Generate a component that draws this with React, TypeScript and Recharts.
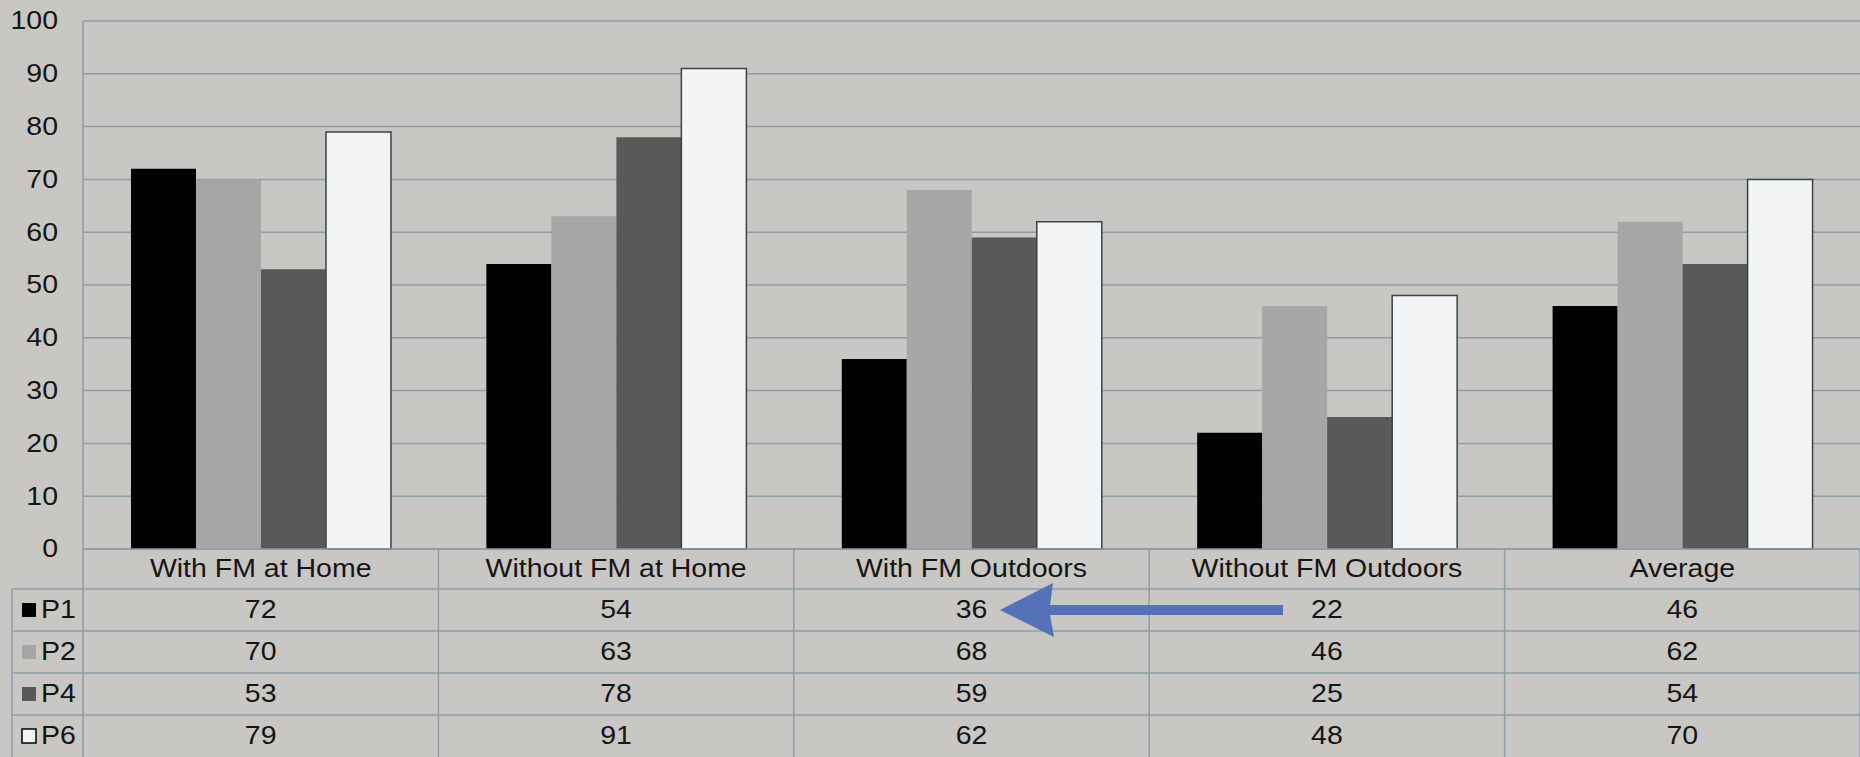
import { Bar, BarChart, CartesianGrid, XAxis, YAxis } from "recharts";

const categories = [
  "With FM at Home",
  "Without FM at Home",
  "With FM Outdoors",
  "Without FM Outdoors",
  "Average"
];
const p1 = [72, 54, 36, 22, 46];
const p2 = [70, 63, 68, 46, 62];
const p4 = [53, 78, 59, 25, 54];
const p6 = [79, 91, 62, 48, 70];
const yTicks = [0, 10, 20, 30, 40, 50, 60, 70, 80, 90, 100];

const series = [
  { key: "P1", values: p1, fill: "#000000", stroke: "none" },
  { key: "P2", values: p2, fill: "#a6a6a6", stroke: "none" },
  { key: "P4", values: p4, fill: "#595959", stroke: "none" },
  { key: "P6", values: p6, fill: "#f2f4f5", stroke: "#36454b" }
];

const data = categories.map((name, i) => {
  const row = { name };
  series.forEach((s) => {
    row[s.key] = s.values[i];
  });
  return row;
});

const W = 1860;
const H = 757;
const Y_AXIS_W = 83;
const X_AXIS_H = 208;
const AXIS_TOP = H - X_AXIS_H;
const BAND = (W - Y_AXIS_W) / categories.length;
const HEADER_H = 40;
const ROW_H = 42;
const LEGEND_LEFT = 12;
const GRID = "#8c9ea7";
const INK = "#151515";
const FONT = "'Liberation Sans', Arial, sans-serif";
const STRETCH = 1.14;

const Txt = ({ x, y, anchor = "middle", children }) => (
  <text
    transform={`translate(${x},${y}) scale(${STRETCH},1)`}
    textAnchor={anchor}
    dominantBaseline="central"
    fontSize={25}
    fontFamily={FONT}
    fill={INK}
  >
    {children}
  </text>
);

const YTick = ({ x, y, payload }) => (
  <Txt x={x} y={y} anchor="end">
    {payload.value}
  </Txt>
);

const TableTick = ({ x, payload }) => {
  const i = payload.index;
  const left = x - BAND / 2;
  const right = x + BAND / 2;
  const rowsTop = AXIS_TOP + HEADER_H;
  const lineLeft = i === 0 ? LEGEND_LEFT : left;
  return (
    <g>
      <line x1={right} x2={right} y1={AXIS_TOP} y2={H} stroke={GRID} strokeWidth={1.5} />
      {i === 0 && (
        <>
          <line x1={left} x2={left} y1={AXIS_TOP} y2={H} stroke={GRID} strokeWidth={1.5} />
          <line x1={LEGEND_LEFT} x2={LEGEND_LEFT} y1={rowsTop} y2={H} stroke={GRID} strokeWidth={1.5} />
        </>
      )}
      {series.map((s, r) => (
        <line
          key={s.key}
          x1={lineLeft}
          x2={right}
          y1={rowsTop + r * ROW_H}
          y2={rowsTop + r * ROW_H}
          stroke={GRID}
          strokeWidth={1.5}
        />
      ))}
      <Txt x={x} y={AXIS_TOP + HEADER_H / 2}>
        {payload.value}
      </Txt>
      {series.map((s, r) => (
        <Txt key={s.key} x={x} y={rowsTop + r * ROW_H + ROW_H / 2}>
          {s.values[i]}
        </Txt>
      ))}
      {i === 0 &&
        series.map((s, r) => {
          const cy = rowsTop + r * ROW_H + ROW_H / 2;
          return (
            <g key={s.key}>
              <rect
                x={22}
                y={cy - 7}
                width={14}
                height={14}
                fill={s.fill}
                stroke={s.stroke === "none" ? "none" : "#000"}
                strokeWidth={1.5}
              />
              <Txt x={41} y={cy} anchor="start">
                {s.key}
              </Txt>
            </g>
          );
        })}
    </g>
  );
};

const App = () => (
  <div
    style={{
      position: "fixed",
      top: 0,
      left: 0,
      width: W,
      height: H,
      background: "#c8c7c4",
      overflow: "hidden"
    }}
  >
    <BarChart
      width={W}
      height={H}
      data={data}
      margin={{ top: 21, right: 0, left: 0, bottom: 0 }}
      barCategoryGap="13.5%"
      barGap={0}
    >
      <CartesianGrid vertical={false} stroke={GRID} strokeWidth={1.5} />
      <XAxis
        dataKey="name"
        height={X_AXIS_H}
        interval={0}
        tickLine={false}
        axisLine={{ stroke: GRID, strokeWidth: 1.5 }}
        tick={<TableTick />}
      />
      <YAxis
        type="number"
        domain={[0, 100]}
        ticks={yTicks}
        width={Y_AXIS_W}
        tickLine={false}
        tickSize={0}
        tickMargin={25}
        axisLine={{ stroke: GRID, strokeWidth: 1.5 }}
        tick={<YTick />}
      />
      {series.map((s) => (
        <Bar
          key={s.key}
          dataKey={s.key}
          fill={s.fill}
          stroke={s.stroke}
          strokeWidth={s.stroke === "none" ? 0 : 1.5}
          isAnimationActive={false}
        />
      ))}
    </BarChart>
    <svg
      width={W}
      height={H}
      style={{ position: "absolute", top: 0, left: 0, pointerEvents: "none" }}
    >
      <polygon
        points="1000,610 1053,583 1050,605 1283,605 1283,615 1050,615 1054,637"
        fill="#5571b9"
      />
    </svg>
  </div>
);

export default App;
